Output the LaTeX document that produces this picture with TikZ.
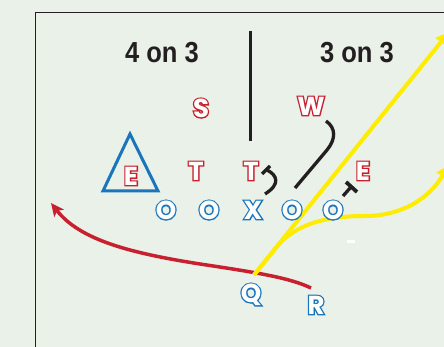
\documentclass[tikz,border=0pt]{standalone}
\usepackage{fontspec}
\setmainfont{Liberation Sans}
\newfontfamily\letfont{Poppins}
\newfontfamily\letfontB{Poppins}[FakeBold=10]
\usetikzlibrary{arrows.meta}
\definecolor{bg}{HTML}{E9F1E8}
\definecolor{lred}{HTML}{C8202F}
\definecolor{lblue}{HTML}{1B75BC}
\definecolor{lyel}{HTML}{FFEC00}
\definecolor{blk}{HTML}{231F20}
\newcommand\rlet[1]{\rlap{\letfontB\bfseries\color{lred}#1}{\letfont\bfseries\color{white}#1}}
\newcommand\blet[1]{\rlap{\letfontB\bfseries\color{lblue}#1}{\letfont\bfseries\color{white}#1}}
\begin{document}
\begin{tikzpicture}[x=1pt,y=-1pt,
  letter/.style={font=\fontsize{26}{26}\selectfont, inner sep=0pt, text depth=0pt},
  title/.style={font=\bfseries\fontsize{29}{29}\selectfont, text=blk, xscale=0.88, inner sep=0pt},
  blockline/.style={draw=blk, line width=3.3pt},
  route/.style={draw=lyel, line width=4pt, -{Triangle[length=13pt,width=13pt]}},
  runpath/.style={draw=lred, line width=3.5pt, -{Stealth[length=13pt,width=12pt,inset=3pt]}}]
\useasboundingbox (0,0) rectangle (444,347);
\fill[bg] (0,0) rectangle (444,347);
% frame
\draw[blk, line width=1.5pt] (35.5,347) -- (35.5,12.5) -- (444,12.5);
% titles
\node[title] (t1) at (162,53) {4 on 3};
\node[title] (t2) at (357,53) {3 on 3};
\draw[blockline, line width=3pt] (250,31) -- (250,141);
% triangle
\draw[lblue, line width=3pt, line join=miter] (130,134) -- (103,191) -- (158,191) -- cycle;
% letters
\node[letter] (S) at (201,108) {\rlet{S}};
\node[letter] (W) at (311,106) {\rlet{W}};
\node[letter] (T1) at (196,171) {\rlet{T}};
\node[letter] (T2) at (251,171) {\rlet{T}};
\node[letter] (E1) at (131,176) {\rlet{E}};
\node[letter] (E2) at (363,171) {\rlet{E}};
% blocks
\draw[blockline] (265,194) .. controls (281,184) and (277,175) .. (267,170);
\draw[blockline] (262,174) -- (270,166);
\draw[blockline] (295,188) -- (327,150) .. controls (336,139) and (336,128) .. (326,121);
\draw[blockline] (343,196) -- (351,187);
\draw[blockline, line width=3.8pt] (346,182) -- (357,192);
% red run
\draw[runpath] (311,288) .. controls (290,278) and (260,273) .. (200,264) .. controls (130,253) and (80,240) .. (51,203);
% yellow routes
\draw[route] (254,275) -- (449,32);
\draw[route] (254,275) -- (279,244) .. controls (300,222) and (330,216) .. (365,216) .. controls (400,216) and (428,200) .. (449,165);
\fill[white] (347,240) rectangle (355,243);
% offense
\node[letter] (O1) at (166,210) {\blet{O}};
\node[letter] (O2) at (209,210) {\blet{O}};
\node[letter] (X) at (253,210) {\blet{X}};
\node[letter] (O3) at (292,210) {\blet{O}};
\node[letter] (O4) at (333,210) {\blet{O}};
\node[letter] (Q) at (251,293) {\blet{Q}};
\node[letter] (R) at (316,305) {\blet{R}};
\end{tikzpicture}
\end{document}
